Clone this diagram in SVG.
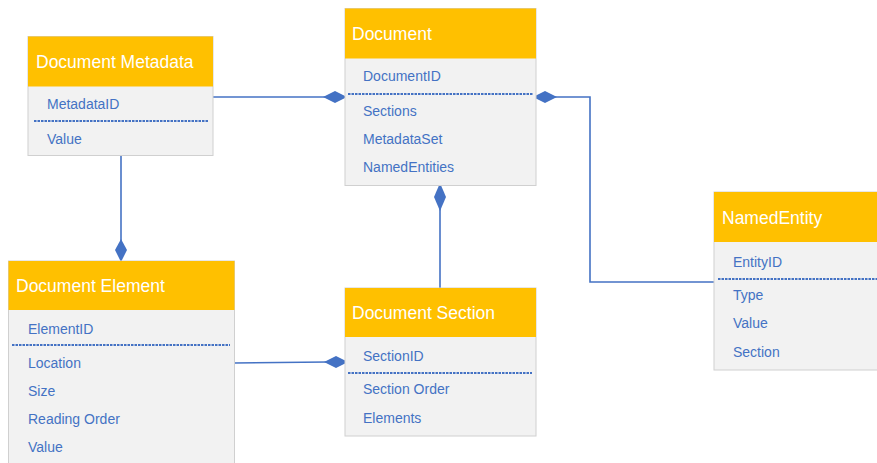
<svg xmlns="http://www.w3.org/2000/svg" width="877" height="463" viewBox="0 0 877 463">
<defs>
<style>
.hdr{fill:#FFC000;}
.body{fill:#F2F2F2;stroke:#D0D0D0;stroke-width:1;}
.title{font-family:"Liberation Sans",Arial,sans-serif;font-size:17.5px;fill:#FFFFFF;}
.fld{font-family:"Liberation Sans",Arial,sans-serif;font-size:14px;fill:#4472C4;}
.dash{stroke:#4472C4;stroke-width:2.2;stroke-dasharray:2.5 1;}
.conn{fill:none;stroke:#4472C4;stroke-width:1.6;}
.dia{fill:#4472C4;}
</style>
</defs>
<rect width="877" height="463" fill="#FFFFFF"/>
<g id="connectors">
<line class="conn" x1="213" y1="97" x2="326" y2="97"/>
<polygon class="dia" points="323,97 335,91 347,97 335,103"/>
<polyline class="conn" points="555,97 590,97 590,282 714,282"/>
<polygon class="dia" points="533,97 545,91 557,97 545,103"/>
<line class="conn" x1="440" y1="209" x2="440" y2="288"/>
<polygon class="dia" points="440,183 446,197 440,211 434,197"/>
<line class="conn" x1="121" y1="156" x2="121" y2="242"/>
<polygon class="dia" points="121,239 127,250 121,262 115,250"/>
<line class="conn" x1="234" y1="363" x2="327" y2="362"/>
<polygon class="dia" points="324,362 336,356 348,362 336,368"/>
</g>
<g id="document-metadata">
<rect class="body" x="28" y="36.5" width="185" height="119"/>
<rect class="hdr" x="28" y="36.5" width="185" height="50"/>
<text class="title" x="36" y="68">Document Metadata</text>
<text class="fld" x="47" y="109">MetadataID</text>
<line class="dash" x1="34" y1="121" x2="209" y2="121"/>
<text class="fld" x="47" y="144">Value</text>
</g>
<g id="document">
<rect class="body" x="345" y="8.5" width="191" height="177"/>
<rect class="hdr" x="345" y="8.5" width="191" height="50"/>
<text class="title" x="352" y="40">Document</text>
<text class="fld" x="363" y="81">DocumentID</text>
<line class="dash" x1="348" y1="94" x2="533" y2="94"/>
<text class="fld" x="363" y="116">Sections</text>
<text class="fld" x="363" y="144">MetadataSet</text>
<text class="fld" x="363" y="172">NamedEntities</text>
</g>
<g id="document-element">
<rect class="body" x="8.5" y="261" width="226" height="210"/>
<rect class="hdr" x="8.5" y="261" width="226" height="49"/>
<text class="title" x="16" y="292">Document Element</text>
<text class="fld" x="28" y="334">ElementID</text>
<line class="dash" x1="12" y1="345" x2="230" y2="345"/>
<text class="fld" x="28" y="368">Location</text>
<text class="fld" x="28" y="396">Size</text>
<text class="fld" x="28" y="424">Reading Order</text>
<text class="fld" x="28" y="452">Value</text>
</g>
<g id="document-section">
<rect class="body" x="345" y="288" width="191" height="148"/>
<rect class="hdr" x="345" y="288" width="191" height="49"/>
<text class="title" x="352" y="319">Document Section</text>
<text class="fld" x="363" y="361">SectionID</text>
<line class="dash" x1="348" y1="373" x2="532" y2="373"/>
<text class="fld" x="363" y="394">Section Order</text>
<text class="fld" x="363" y="423">Elements</text>
</g>
<g id="named-entity">
<rect class="body" x="714" y="192" width="170" height="178"/>
<rect class="hdr" x="714" y="192" width="170" height="50"/>
<text class="title" x="722" y="224">NamedEntity</text>
<text class="fld" x="733" y="267">EntityID</text>
<line class="dash" x1="718" y1="279" x2="877" y2="279"/>
<text class="fld" x="733" y="300">Type</text>
<text class="fld" x="733" y="328">Value</text>
<text class="fld" x="733" y="357">Section</text>
</g>
</svg>
